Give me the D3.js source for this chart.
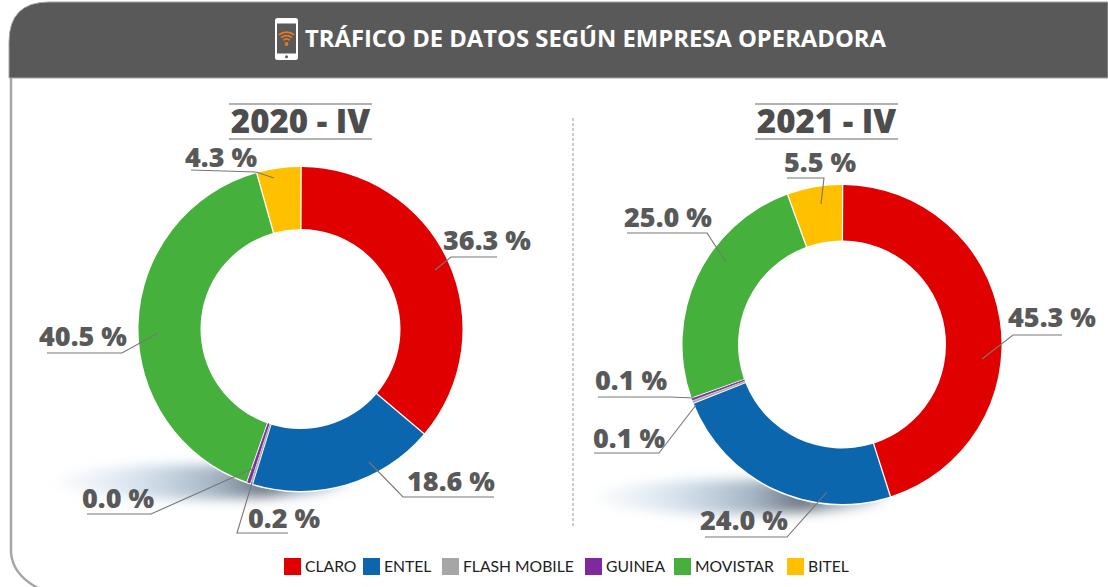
<!DOCTYPE html>
<html>
<head>
<meta charset="utf-8">
<script src="https://d3js.org/d3.v7.min.js"></script>
<style>
html, body { margin: 0; padding: 0; background: #fff; }
svg { display: block; }
.pct { font-family: "Open Sans"; font-weight: 800; font-size: 27px; fill: #595959; }
.period { font-family: "Open Sans"; font-weight: 800; font-size: 33px; fill: #4d4d4d; }
.leg { font-family: "Lato"; font-size: 15.7px; fill: #222; }
</style>
</head>
<body>
<div id="chart"></div>
<script>
var W = 1108, H = 587;

// data
var companies = ["CLARO", "ENTEL", "FLASH MOBILE", "GUINEA", "MOVISTAR", "BITEL"];
var colors = ["#e00000", "#0b66ae", "#a6a6a6", "#7e2a9e", "#45b03c", "#ffc000"];
var values2020 = [36.3, 18.6, 0.049, 0.2, 40.5, 4.3];
var values2021 = [45.3, 24.0, 0.1, 0.1, 25.0, 5.5];
var labels2020 = ["36.3 %", "18.6 %", "0.0 %", "0.2 %", "40.5 %", "4.3 %"];
var labels2021 = ["45.3 %", "24.0 %", "0.1 %", "0.1 %", "25.0 %", "5.5 %"];

// leader lines for the labels: start, elbow, end + text x / baseline
var leaders2020 = [
  {line: [[435, 270], [451, 257], [497, 257]], x: 443, y: 250},
  {line: [[369, 462], [403, 497], [494, 497]], x: 407, y: 491},
  {line: [[254, 468], [151, 514], [87, 514]], x: 82, y: 508},
  {line: [[252, 483], [237, 533], [288, 533]], x: 248, y: 528},
  {line: [[158, 333], [122, 353], [47, 353]], x: 39, y: 346},
  {line: [[274, 178], [256, 172], [191, 170]], x: 185, y: 167}
];
var leaders2021 = [
  {line: [[982, 359], [1013, 335], [1062, 335]], x: 1008, y: 327},
  {line: [[827, 492], [787, 537], [705, 537]], x: 700, y: 530},
  {line: [[694, 398], [670, 397], [598, 397]], x: 595, y: 390},
  {line: [[696, 405], [659, 453], [594, 453]], x: 593, y: 448},
  {line: [[726, 262], [707, 233], [627, 233]], x: 624, y: 227},
  {line: [[821, 204], [824, 178], [787, 178]], x: 784, y: 172}
];

var svg = d3.select("#chart").append("svg").attr("width", W).attr("height", H);
var defs = svg.append("defs");

defs.append("filter").attr("id", "blur")
  .attr("x", "-20%").attr("y", "-100%").attr("width", "140%").attr("height", "300%")
  .append("feGaussianBlur").attr("stdDeviation", "8 6");

var shadowGrad = defs.append("linearGradient").attr("id", "shadow");
[[0, "#d2dfec", 0.1], [0.3, "#bccfe1", 0.65], [0.55, "#8fa2b6", 0.8], [0.72, "#5d6976", 0.9], [1, "#8ea3b8", 0.5]]
  .forEach(function(s) {
    shadowGrad.append("stop").attr("offset", s[0]).attr("stop-color", s[1]).attr("stop-opacity", s[2]);
  });

// frame
svg.append("path")
  .attr("d", "M11 60V553Q13 575 38 588")
  .attr("fill", "none").attr("stroke", "#a6a6a6").attr("stroke-width", 2.5);
svg.append("path")
  .attr("d", "M9 78V42Q9 2 49 2H1108V78Z")
  .attr("fill", "#595959").attr("stroke", "#a6a6a6").attr("stroke-width", 1);

// phone icon
var icon = svg.append("g").attr("transform", "translate(275,18)");
icon.append("rect").attr("width", 23).attr("height", 42).attr("rx", 2.5).attr("fill", "#fff");
icon.append("rect").attr("x", 2).attr("y", 5.5).attr("width", 19).attr("height", 30).attr("fill", "#595959");
icon.append("circle").attr("cx", 11.5).attr("cy", 38.8).attr("r", 1.5).attr("fill", "#595959");
var wifi = d3.arc().startAngle(-0.7).endAngle(0.7);
[[4, 5.8], [7.5, 9.3], [11, 12.8]].forEach(function(r) {
  icon.append("path")
    .attr("transform", "translate(11.5,26)")
    .attr("d", wifi({innerRadius: r[0], outerRadius: r[1]}))
    .attr("fill", "#e87722");
});
icon.append("circle").attr("cx", 11.5).attr("cy", 26).attr("r", 1.9).attr("fill", "#e87722");

svg.append("text")
  .attr("x", 305).attr("y", 47)
  .attr("font-family", "Open Sans").attr("font-weight", 700).attr("font-size", 23.8)
  .attr("fill", "#fff")
  .text("TRÁFICO DE DATOS SEGÚN EMPRESA OPERADORA");

// divider
svg.append("line")
  .attr("x1", 573).attr("x2", 573).attr("y1", 118).attr("y2", 526)
  .attr("stroke", "#999").attr("stroke-width", 1).attr("stroke-dasharray", "3 2");

// pad angle gives the white gaps, small rotation keeps the slice edges in place
var pie = d3.pie().sort(null).startAngle(0.004).endAngle(2 * Math.PI + 0.004).padAngle(0.01);

function donut(o) {
  var g = svg.append("g");

  // soft shadow under the ring
  g.append("ellipse")
    .attr("cx", o.shadow[0]).attr("cy", o.shadow[1])
    .attr("rx", 145).attr("ry", 17)
    .attr("fill", "url(#shadow)")
    .attr("filter", "url(#blur)");

  var arc = d3.arc().innerRadius(o.r0).outerRadius(o.r1).padRadius(130);
  g.append("circle").attr("cx", o.cx).attr("cy", o.cy).attr("r", o.r1 + 1.5).attr("fill", "#fff");
  g.append("g").attr("transform", "translate(" + o.cx + "," + o.cy + ")")
    .selectAll("path")
    .data(pie(o.values))
    .enter().append("path")
    .attr("d", arc)
    .attr("fill", function(d, i) { return colors[i]; })
    .attr("stroke", function(d, i) { return d.value < 1 ? colors[i] : "none"; })
    .attr("stroke-width", 0.8);

  // period heading
  g.append("text").attr("class", "period")
    .attr("x", o.titleX).attr("y", 133).attr("text-anchor", "middle").text(o.title);
  [104, 139].forEach(function(y) {
    g.append("line")
      .attr("x1", o.titleX - 71.5).attr("x2", o.titleX + 71.5).attr("y1", y).attr("y2", y)
      .attr("stroke", "#999").attr("stroke-width", 1.5);
  });

  // labels with leader lines
  var line = d3.line();
  o.leaders.forEach(function(l, i) {
    g.append("path").attr("d", line(l.line))
      .attr("fill", "none").attr("stroke", "#777").attr("stroke-width", 1.1);
    g.append("text").attr("class", "pct").attr("x", l.x).attr("y", l.y).text(o.labels[i]);
  });
}

donut({cx: 300.5, cy: 329, r0: 100, r1: 162, values: values2020, labels: labels2020, leaders: leaders2020,
  title: "2020 - IV", titleX: 300.5, shadow: [200, 482]});
donut({cx: 842, cy: 344.5, r0: 104, r1: 159.5, values: values2021, labels: labels2021, leaders: leaders2021,
  title: "2021 - IV", titleX: 826.5, shadow: [738, 497]});

// legend
var legendX = [284, 363, 442, 585, 674, 787];
var legend = svg.selectAll("g.legend")
  .data(companies)
  .enter().append("g")
  .attr("class", "legend")
  .attr("transform", function(d, i) { return "translate(" + legendX[i] + ",558)"; });
legend.append("rect")
  .attr("width", 17).attr("height", 17)
  .attr("fill", function(d, i) { return colors[i]; });
legend.append("text").attr("class", "leg")
  .attr("x", 21).attr("y", 14)
  .text(function(d) { return d; });
</script>
</body>
</html>
